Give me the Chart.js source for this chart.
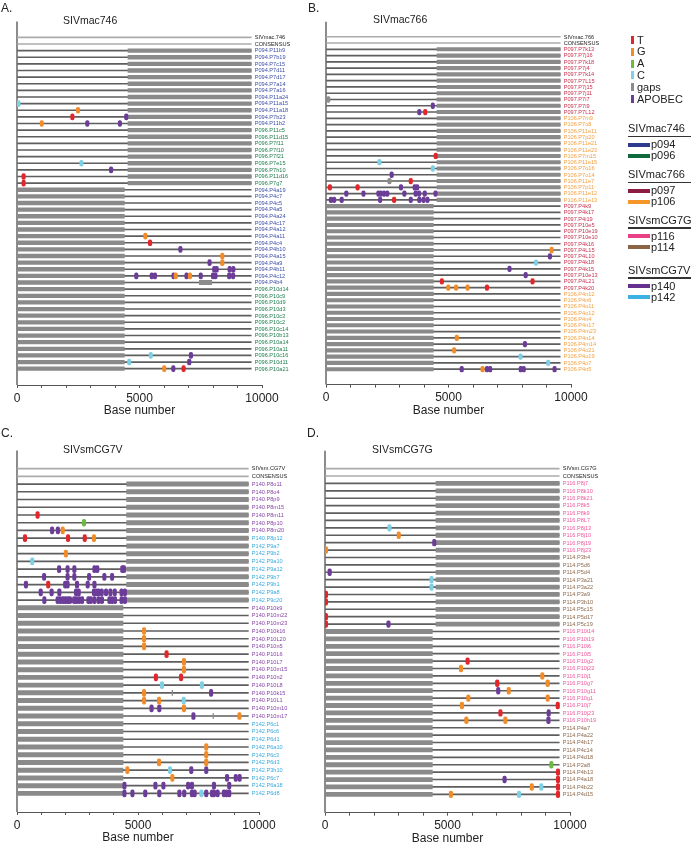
<!DOCTYPE html>
<html>
<head>
<meta charset="utf-8">
<script src="https://cdn.jsdelivr.net/npm/chart.js@4.4.1/dist/chart.umd.min.js"></script>
<style>
    body { margin: 0; background: #fff; font-family: "Liberation Sans", Arial, Helvetica, sans-serif; }
    #page { position: relative; width: 696px; height: 848px; overflow: hidden; }
    #page canvas, .txt, .sw { position: absolute; }
    .txt { line-height: 1; white-space: nowrap; color: #222; }
</style>
</head>
<body>
<div id="page">
    <canvas id="chartA"></canvas>
    <canvas id="chartB"></canvas>
    <canvas id="chartC"></canvas>
    <canvas id="chartD"></canvas>
</div>
<script>
// ---- data ----
const LINE_END = 9560;          // end of each sequence
const RIGHT_HALF = [4530, 9560]; // masked 3' half
const LEFT_HALF = [0, 4380];     // masked 5' half
const xTicks = [0, 5000, 10000];

// Panel A: SIVmac746
const labelsA = ['SIVmac.746','CONSENSUS','P094.P11b9','P094.P7b19','P094.P7c15','P094.P7d11','P094.P7d17','P094.P7a14','P094.P7a16','P094.P11a24','P094.P11a15','P094.P11a18','P094.P7b23','P094.P11b2','P096.P11c5','P096.P11d15','P096.P7f11','P096.P7f10','P096.P7f21','P096.P7e15','P096.P7h10','P096.P11d16','P096.P7g7','P094.P4a19','P094.P4c7','P094.P4c5','P094.P4a5','P094.P4a24','P094.P4c17','P094.P4a12','P094.P4a11','P094.P4c4','P094.P4b10','P094.P4a15','P094.P4a9','P094.P4b11','P094.P4c12','P094.P4b4','P096.P10d14','P096.P10c9','P096.P10d9','P096.P10d3','P096.P10c3','P096.P10c2','P096.P10c14','P096.P10b13','P096.P10a14','P096.P10a11','P096.P10c16','P096.P10d11','P096.P10a21'];
const maskA = '--RRRRRRRRRRRRRRRRRRRRRLLLLLLLLLLLLLLLLLLLLLLLLLLLL';
const tA = [['P094.P7b23',2260],['P096.P11d16',270],['P096.P7g7',270],['P094.P4c4',5430],['P096.P10a21',6800]];
const gA = [['P094.P11a18',2490],['P094.P11b2',1010],['P094.P4a11',5240],['P094.P4a15',8380],['P094.P4a9',8380],['P094.P4c12',6480],['P094.P4c12',7060],['P096.P10a21',6010]];
const aA = [];
const cA = [['P094.P11a15',60],['P096.P7e15',2630],['P096.P10c16',5460],['P096.P10d11',4580]];
const gapA = [['P094.P4b4',7440,7950]];
const apoA = [['P094.P7b23',4460],['P094.P11b2',2870],['P094.P11b2',4200],['P096.P7h10',3840],['P094.P4b10',6670],['P094.P4a9',7860],['P094.P4b11',8050],['P094.P4b11',8150],['P094.P4b11',8680],['P094.P4b11',8830],['P094.P4c12',4870],['P094.P4c12',5500],['P094.P4c12',5630],['P094.P4c12',6390],['P094.P4c12',6920],['P094.P4c12',7500],['P094.P4c12',8000],['P094.P4c12',8100],['P094.P4c12',8660],['P094.P4c12',8820],['P096.P10c16',7100],['P096.P10d11',7030],['P096.P10a21',6380]];

// Panel B: SIVmac766
const labelsB = ['SIVmac.766','CONSENSUS','P097.P7k13','P097.P7j16','P097.P7k18','P097.P7j4','P097.P7k14','P097.P7L15','P097.P7j15','P097.P7j11','P097.P7i7','P097.P7i9','P097.P7L12','P106.P7m9','P106.P7o8','P106.P11e11','P106.P7p20','P106.P11e21','P106.P11e23','P106.P7m15','P106.P11e15','P106.P7o16','P106.P7o14','P106.P11e7','P106.P7p11','P106.P11e12','P106.P11e13','P097.P4k9','P097.P4k17','P097.P4i19','P097.P10e5','P097.P10e19','P097.P10e10','P097.P4k16','P097.P4L15','P097.P4L10','P097.P4k18','P097.P4k15','P097.P10e13','P097.P4L21','P097.P4k20','P106.P4n12','P106.P4n6','P106.P4o11','P106.P4o12','P106.P4n4','P106.P4n17','P106.P4m23','P106.P4n14','P106.P4m14','P106.P4o21','P106.P4o19','P106.P4o7','P106.P4n5'];
const maskB = '--RRRRRRRRRRRRRRRRRRRRRRRRRLLLLLLLLLLLLLLLLLLLLLLLLLLL';
const tB = [['P097.P7L12',4050],['P106.P7m15',4480],['P106.P11e7',3460],['P106.P7p11',160],['P106.P7p11',1290],['P106.P11e13',2780],['P097.P4L21',4730],['P097.P4L21',8430],['P097.P4k20',6570]];
const gB = [['P097.P4L15',9210],['P097.P4k20',4990],['P097.P4k20',5310],['P097.P4k20',5780],['P106.P4n14',5340],['P106.P4o21',5230],['P106.P4n5',6390]];
const aB = [];
const cB = [['P106.P11e15',2180],['P106.P7o16',4360],['P097.P4k18',8570],['P106.P4o19',7940],['P106.P4o7',9070]];
const gapB = [['P097.P7i7',95],['P106.P11e7',2590]];
const apoB = [['P097.P7i9',4360],['P097.P7L12',3810],['P106.P7o14',2680],['P106.P7p11',3060],['P106.P7p11',3620],['P106.P7p11',3720],['P106.P11e12',830],['P106.P11e12',1530],['P106.P11e12',2140],['P106.P11e12',2240],['P106.P11e12',2370],['P106.P11e12',2500],['P106.P11e12',3200],['P106.P11e12',3660],['P106.P11e12',3800],['P106.P11e12',4030],['P106.P11e12',4470],['P106.P11e13',200],['P106.P11e13',330],['P106.P11e13',640],['P106.P11e13',2210],['P106.P11e13',3460],['P106.P11e13',3810],['P106.P11e13',3980],['P106.P11e13',4140],['P097.P4L10',9140],['P097.P4k15',7490],['P097.P10e13',8150],['P106.P4m14',8120],['P106.P4n5',5540],['P106.P4n5',6570],['P106.P4n5',6700],['P106.P4n5',7950],['P106.P4n5',8070],['P106.P4n5',9330]];

// Panel C: SIVsmCG7V
const labelsC = ['SIVsm.CG7V','CONSENSUS','P140.P8o11','P140.P8o4','P140.P8p9','P140.P8m15','P140.P8m11','P140.P8p10','P140.P8m20','P140.P8p12','P142.P9a7','P142.P9b2','P142.P9a10','P142.P9a12','P142.P9b7','P142.P9b1','P142.P9a8','P142.P9c20','P140.P10k9','P140.P10m22','P140.P10m23','P140.P10k16','P140.P10L20','P140.P10n5','P140.P10L6','P140.P10L7','P140.P10m15','P140.P10n2','P140.P10L8','P140.P10k15','P140.P10L1','P140.P10m10','P140.P10m17','P142.P6c1','P142.P6c6','P142.P6d1','P142.P6a10','P142.P6c3','P142.P6d3','P142.P3h10','P142.P6c7','P142.P6a18','P142.P6d8'];
const maskC = '--RRRRRRRRRRRRRRRRLLLLLLLLLLLLLLLLLLLLLLLLL';
const tC = [['P140.P8m11',850],['P140.P8p12',330],['P140.P8p12',2110],['P140.P8p12',2800],['P142.P9b1',1290],['P140.P10L6',6180],['P140.P10n2',5740],['P140.P10n2',6780]];
const gC = [['P140.P8m20',1890],['P140.P8p12',3180],['P142.P9b2',2020],['P140.P10k16',5250],['P140.P10L20',5250],['P140.P10n5',5250],['P140.P10L7',6900],['P140.P10m15',6900],['P140.P10k15',5250],['P140.P10L1',5250],['P140.P10L1',5870],['P140.P10m10',6900],['P140.P10m17',9190],['P142.P6a10',7820],['P142.P6c3',7820],['P142.P6d3',5870],['P142.P6d3',7820],['P142.P3h10',4560],['P142.P6c7',6420]];
const aC = [['P140.P8p10',2770]];
const cC = [['P142.P9a10',630],['P140.P10L8',5990],['P140.P10L8',7640],['P140.P10L1',6890],['P142.P3h10',6320],['P142.P6d8',7620]];
const gapC = [['P140.P10k15',6405,6435],['P140.P10m17',8095,8125]];
const apoC = [['P140.P8m20',1450],['P140.P8m20',1690],
    ['P142.P9a12',1740],['P142.P9a12',2090],['P142.P9a12',2370],['P142.P9a12',3200],['P142.P9a12',3320],['P142.P9a12',4350],['P142.P9a12',4420],
    ['P142.P9b7',1120],['P142.P9b7',2090],['P142.P9b7',2370],['P142.P9b7',2980],['P142.P9b7',3610],['P142.P9b7',3930],
    ['P142.P9b1',370],['P142.P9b1',1990],['P142.P9b1',2090],['P142.P9b1',2480],['P142.P9b1',2920],['P142.P9b1',3200],
    ['P142.P9a8',980],['P142.P9a8',1430],['P142.P9a8',1750],['P142.P9a8',2440],['P142.P9a8',2550],['P142.P9a8',3180],['P142.P9a8',3280],['P142.P9a8',3370],['P142.P9a8',3500],['P142.P9a8',3680],['P142.P9a8',3860],['P142.P9a8',4040],['P142.P9a8',4320],['P142.P9a8',4460],
    ['P142.P9c20',1130],['P142.P9c20',1680],['P142.P9c20',1790],['P142.P9c20',1900],['P142.P9c20',2000],['P142.P9c20',2100],['P142.P9c20',2190],['P142.P9c20',2360],['P142.P9c20',2460],['P142.P9c20',2570],['P142.P9c20',2690],['P142.P9c20',2950],['P142.P9c20',3050],['P142.P9c20',3200],['P142.P9c20',3370],['P142.P9c20',3510],['P142.P9c20',3820],['P142.P9c20',3930],['P142.P9c20',4050],['P142.P9c20',4320],['P142.P9c20',4460],
    ['P140.P10k15',8020],['P140.P10m10',5560],['P140.P10m10',5880],['P140.P10m17',7290],['P142.P3h10',7200],['P142.P3h10',7820],
    ['P142.P6c7',8680],['P142.P6c7',9040],['P142.P6c7',9200],
    ['P142.P6a18',4440],['P142.P6a18',5720],['P142.P6a18',6050],['P142.P6a18',7070],['P142.P6a18',7230],['P142.P6a18',8140],['P142.P6a18',8770],
    ['P142.P6d8',4440],['P142.P6d8',4770],['P142.P6d8',5300],['P142.P6d8',5880],['P142.P6d8',6710],['P142.P6d8',6910],['P142.P6d8',7230],['P142.P6d8',7340],['P142.P6d8',7820],['P142.P6d8',8060],['P142.P6d8',8140],['P142.P6d8',8290],['P142.P6d8',8550],['P142.P6d8',8660],['P142.P6d8',8770]];

// Panel D: SIVsmCG7G
const labelsD = ['SIVsm.CG7G','CONSENSUS','P116.P8j7','P116.P8k10','P116.P8k21','P116.P8k5','P116.P8k9','P116.P8L7','P116.P8j13','P116.P8j10','P116.P8j19','P116.P8j23','P114.P3b4','P114.P5d6','P114.P5d4','P114.P3a21','P114.P3a22','P114.P3a9','P114.P3b10','P114.P5c15','P114.P5d17','P114.P5c19','P116.P10i14','P116.P10i19','P116.P10i6','P116.P10i5','P116.P10g2','P116.P10j22','P116.P10j1','P116.P10g7','P116.P10g11','P116.P10g1','P116.P10j7','P116.P10j23','P116.P10h19','P114.P4a7','P114.P4a22','P114.P4b17','P114.P4c14','P114.P4d18','P114.P2a8','P114.P4b13','P114.P4a18','P114.P4b22','P114.P4d15'];
const maskD = '--RRRRRRRRRRRRRRRRRRRRLLLLLLLLLLLLLLLLLLLLLLL';
const tD = [['P114.P3a9',40],['P114.P3b10',40],['P114.P5d17',40],['P114.P5c19',40],['P116.P10g2',5820],['P116.P10g7',7030],['P116.P10j7',9500],['P116.P10j23',7160],['P114.P4b13',9510],['P114.P4a18',9510],['P114.P4b22',9510],['P114.P4d15',9510]];
const gD = [['P116.P8j10',3010],['P116.P8j23',40],['P116.P10j22',5550],['P116.P10j1',8870],['P116.P10g7',9090],['P116.P10g11',7500],['P116.P10g1',5850],['P116.P10g1',9090],['P116.P10j7',5590],['P116.P10h19',5770],['P116.P10h19',7360],['P114.P4b22',8440],['P114.P4d15',5140]];
const aD = [['P114.P2a8',9240]];
const cD = [['P116.P8j13',2630],['P114.P3a21',4350],['P114.P3a22',4350],['P114.P4b22',8830],['P114.P4d15',7920]];
const gapD = [];
const apoD = [['P116.P8j19',4460],['P114.P5d4',190],['P114.P5c19',2590],['P116.P10g11',7070],['P116.P10j23',9130],['P116.P10h19',9120],['P114.P4a18',7330]];

// legend content
const mutationTypes = ['T', 'G', 'A', 'C', 'gaps', 'APOBEC'];
const legendGroups = [
    ['SIVmac746', ['p094', 'p096']],
    ['SIVmac766', ['p097', 'p106']],
    ['SIVsmCG7G', ['p116', 'p114']],
    ['SIVsmCG7V', ['p140', 'p142']]
];

// ---- styles ----
const MUT_COLORS = { T: '#e3262b', G: '#f28c28', A: '#6cb944', C: '#7fd0e2', gaps: '#8c8c8c', APOBEC: '#6b3d98' };
const PATIENT_COLORS = { p094: '#2e3a8e', p096: '#10693b', p097: '#8e1c40', p106: '#f5962a', p116: '#eb3f86', p114: '#8b6446', p140: '#66308f', p142: '#3cb2e4' };
const LABEL_COLORS = { P094: '#3f50a8', P096: '#1f7e4c', P097: '#c9324f', P106: '#f5a040', P116: '#ef5a9e', P114: '#8c6a4f', P140: '#8a46a8', P142: '#38aadf' };
const LABEL_OVERRIDE = { 'P140.P8p12': '#38aadf' };
const MARK_HALF = 70;
const Y_PAD_TOP = 0.78, Y_PAD_BOTTOM = 0.85;
const X_AXIS_HEIGHT = 35;

Chart.defaults.font.family = '"Liberation Sans", Arial, Helvetica, sans-serif';
Chart.defaults.color = '#222';

const page = document.getElementById('page');

function addText(text, left, cy, size, color) {
    const el = document.createElement('div');
    el.className = 'txt';
    el.textContent = text;
    el.style.left = left + 'px';
    el.style.top = (cy - size * 0.5) + 'px';
    el.style.fontSize = size + 'px';
    if (color) el.style.color = color;
    page.appendChild(el);
}

function addSwatch(left, top, w, h, color) {
    const el = document.createElement('div');
    el.className = 'sw';
    Object.assign(el.style, { left: left + 'px', top: top + 'px', width: w + 'px', height: h + 'px', background: color });
    page.appendChild(el);
}

function labelColor(name) {
    if (LABEL_OVERRIDE[name]) return LABEL_OVERRIDE[name];
    return LABEL_COLORS[name.slice(0, 4)] || '#222';
}

function decorPlugin(labels) {
    return {
        id: 'panelDecor',
        beforeDatasetsDraw(chart) {
            const { ctx, chartArea: a } = chart;
            ctx.save();
            ctx.strokeStyle = '#8c8c8c';
            ctx.lineWidth = 2;
            ctx.beginPath();
            ctx.moveTo(a.left, a.top);
            ctx.lineTo(a.left, a.bottom);
            ctx.stroke();
            ctx.restore();
        },
        afterDatasetsDraw(chart) {
            const { ctx } = chart;
            const xs = chart.scales.x, ys = chart.scales.y;
            const x = xs.getPixelForValue(LINE_END) + 3.5;
            ctx.save();
            ctx.font = '5.6px "Liberation Sans", Arial, sans-serif';
            ctx.textBaseline = 'middle';
            labels.forEach((name, i) => {
                ctx.fillStyle = labelColor(name);
                ctx.fillText(name, x, ys.getPixelForValue(i) + 0.3);
            });
            ctx.restore();
        }
    };
}

function makePanel(id, box, labels, mask, marks, spans) {
    const canvas = document.getElementById(id);
    canvas.width = box.w;
    canvas.height = box.h;
    Object.assign(canvas.style, { left: box.left + 'px', top: box.top + 'px', width: box.w + 'px', height: box.h + 'px' });

    const a = box.area;
    const sp = (a.b - a.t) / (labels.length - 1 + Y_PAD_TOP + Y_PAD_BOTTOM);
    const idx = name => labels.indexOf(name);
    const common = { grouped: false, barPercentage: 1, categoryPercentage: 1, borderWidth: 0 };

    const datasets = [];
    Object.keys(marks).forEach(type => {
        datasets.push(Object.assign({}, common, {
            label: type,
            data: marks[type].map(([name, pos]) => ({ x: [pos - MARK_HALF, pos + MARK_HALF], y: idx(name) })),
            backgroundColor: MUT_COLORS[type],
            maxBarThickness: Math.min(7, sp * 0.85),
            borderRadius: 2,
            borderSkipped: false,
            order: 0
        }));
    });
    datasets.push(Object.assign({}, common, {
        label: 'gap spans',
        data: spans.map(([name, s, e]) => ({ x: [s, e], y: idx(name) })),
        backgroundColor: MUT_COLORS.gaps,
        maxBarThickness: sp * 0.6,
        borderSkipped: false,
        order: 1
    }));
    const thick = [];
    labels.forEach((name, i) => {
        if (mask[i] === 'R') thick.push({ x: RIGHT_HALF.slice(), y: i });
        if (mask[i] === 'L') thick.push({ x: LEFT_HALF.slice(), y: i });
    });
    datasets.push(Object.assign({}, common, {
        label: 'masked',
        data: thick,
        backgroundColor: '#8a8a8a',
        maxBarThickness: sp * 0.52,
        borderSkipped: false,
        order: 2
    }));
    datasets.push(Object.assign({}, common, {
        label: 'sequence',
        data: labels.map((name, i) => ({ x: [0, LINE_END], y: i })),
        backgroundColor: labels.map((name, i) => i < 2 ? '#ababab' : '#5e5e5e'),
        maxBarThickness: 1,
        borderSkipped: false,
        order: 3
    }));

    return new Chart(canvas, {
        type: 'bar',
        data: { datasets },
        options: {
            responsive: false,
            animation: false,
            indexAxis: 'y',
            layout: {
                padding: {
                    left: a.l - box.left,
                    right: box.left + box.w - a.r,
                    top: a.t - box.top,
                    bottom: box.top + box.h - a.b - X_AXIS_HEIGHT
                }
            },
            plugins: { legend: { display: false }, tooltip: { enabled: false } },
            scales: {
                x: {
                    type: 'linear', min: 0, max: 10000, position: 'bottom',
                    afterFit: s => { s.height = X_AXIS_HEIGHT; },
                    ticks: {
                        stepSize: 1000, autoSkip: false, maxRotation: 0, padding: 3,
                        color: '#222', font: { size: 12 },
                        callback: v => xTicks.includes(v) ? String(v) : ''
                    },
                    grid: { drawOnChartArea: false, drawTicks: true, tickLength: 3, color: '#555' },
                    border: { color: '#555', width: 1 },
                    title: { display: true, text: 'Base number', color: '#222', font: { size: 12 }, padding: { top: 0, bottom: 2 } }
                },
                y: {
                    type: 'linear', display: false, reverse: true,
                    min: -Y_PAD_TOP, max: labels.length - 1 + Y_PAD_BOTTOM,
                    afterBuildTicks: s => { s.ticks = labels.map((n, i) => ({ value: i })); }
                }
            }
        },
        plugins: [decorPlugin(labels)]
    });
}

makePanel('chartA', { left: 0, top: 0, w: 320, h: 425, area: { l: 17, r: 262, t: 21.5, b: 385 } },
    labelsA, maskA, { T: tA, G: gA, A: aA, C: cA, APOBEC: apoA }, gapA);
makePanel('chartB', { left: 300, top: 0, w: 320, h: 425, area: { l: 326, r: 571, t: 21.8, b: 384.6 } },
    labelsB, maskB, { T: tB, G: gB, A: aB, C: cB, gaps: gapB, APOBEC: apoB }, []);
makePanel('chartC', { left: 0, top: 425, w: 320, h: 423, area: { l: 17, r: 259, t: 450.5, b: 812 } },
    labelsC, maskC, { T: tC, G: gC, A: aC, C: cC, APOBEC: apoC }, gapC);
makePanel('chartD', { left: 300, top: 425, w: 320, h: 423, area: { l: 325, r: 570, t: 450.8, b: 812.7 } },
    labelsD, maskD, { T: tD, G: gD, A: aD, C: cD, gaps: gapD, APOBEC: apoD }, []);

// panel letters and titles
addText('A.', 1, 8, 12);
addText('B.', 308, 8, 12);
addText('C.', 1, 433, 12);
addText('D.', 307, 433, 12);
addText('SIVmac746', 63, 20, 10.5);
addText('SIVmac766', 373, 19.5, 10.5);
addText('SIVsmCG7V', 63, 449.5, 10.5);
addText('SIVsmCG7G', 372, 449.5, 10.5);

// legend
mutationTypes.forEach((t, i) => {
    const cy = 40 + i * 11.8;
    addSwatch(631, cy - 4, 2.5, 8, MUT_COLORS[t]);
    addText(t, 637, cy, 11);
});
const groupTops = [128.5, 174.5, 220, 270];
legendGroups.forEach(([name, pats], g) => {
    const hy = groupTops[g];
    addText(name, 628, hy, 11);
    addSwatch(628, hy + 7, 63, 1.5, '#333');
    pats.forEach((p, k) => {
        const cy = hy + 16 + k * 11;
        addSwatch(628, cy - 2, 22, 4, PATIENT_COLORS[p]);
        addText(p, 651, cy, 11);
    });
});
</script>
</body>
</html>
